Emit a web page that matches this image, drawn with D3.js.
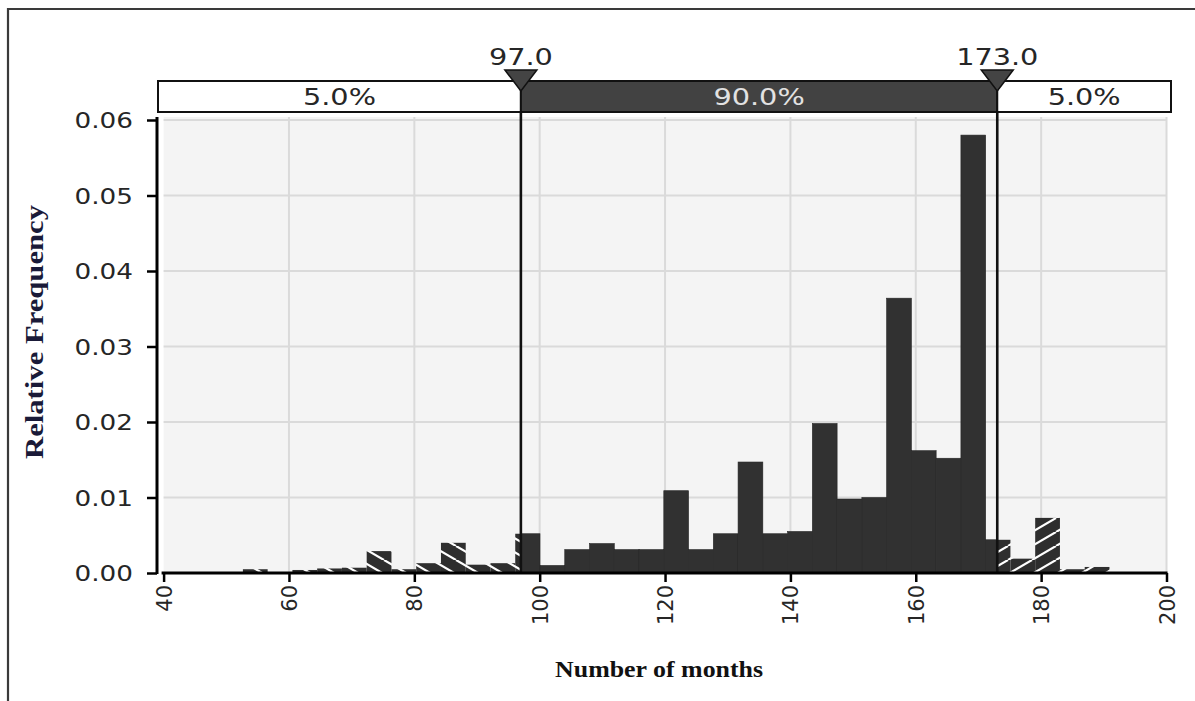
<!DOCTYPE html>
<html>
<head>
<meta charset="utf-8">
<script src="https://cdn.jsdelivr.net/npm/d3@7"></script>
<style>
  html, body { margin: 0; padding: 0; background: #ffffff; }
  svg { display: block; }
</style>
</head>
<body>
<svg id="chart" width="1195" height="701"></svg>
<script>
// ---------------- data ----------------
const binWidth = 3.95;
const binLo = [52.65, 56.60, 60.55, 64.50, 68.45, 72.40, 76.35, 80.30, 84.25, 88.20,
               92.15, 96.10, 100.05, 104.00, 107.95, 111.90, 115.85, 119.80, 123.75, 127.70,
               131.65, 135.60, 139.55, 143.50, 147.45, 151.40, 155.35, 159.30, 163.25, 167.20,
               171.15, 175.10, 179.05, 183.00, 186.95];
const relFreq = [0.0005, 0.0000, 0.0004, 0.0006, 0.0007, 0.0029, 0.0005, 0.0013, 0.0040, 0.0011,
                 0.0013, 0.0052, 0.0010, 0.0031, 0.0039, 0.0031, 0.0031, 0.0109, 0.0031, 0.0052,
                 0.0147, 0.0052, 0.0055, 0.0198, 0.0098, 0.0100, 0.0364, 0.0162, 0.0152, 0.0580,
                 0.0044, 0.0019, 0.0073, 0.0005, 0.0008];
const xTicks = [40, 60, 80, 100, 120, 140, 160, 180, 200];
const yTicks = [0.00, 0.01, 0.02, 0.03, 0.04, 0.05, 0.06];
const markerValues = [97.0, 173.0];
const markerLabels = ["97.0", "173.0"];
const bandLabels = ["5.0%", "90.0%", "5.0%"];
const xTitle = "Number of months";
const yTitle = "Relative Frequency";

// ---------------- layout ----------------
const svg = d3.select("#chart");
const x = d3.scaleLinear().domain([40, 200]).range([163.6, 1166.5]);
const y = d3.scaleLinear().domain([0, 0.06]).range([573, 120]);
const plotTop = 117;
const bandTop = 81, bandBot = 112, bandLeft = 158, bandRight = 1171;
const SX = 1.25;
const sans = "'DejaVu Sans', Verdana, sans-serif";
const serif = "'Liberation Serif', 'Times New Roman', serif";

svg.append("rect").attr("width", 1195).attr("height", 701).attr("fill", "#ffffff");

// frame
svg.append("path").attr("d", "M8,701 L8,9 L1195,9")
  .attr("fill", "none").attr("stroke", "#3a3a3a").attr("stroke-width", 2.2);

// hatch patterns
const defs = svg.append("defs");
function hatch(id, dir) {
  const p = defs.append("pattern").attr("id", id)
    .attr("patternUnits", "userSpaceOnUse").attr("width", 24).attr("height", 14);
  p.append("rect").attr("width", 24).attr("height", 14).attr("fill", "#2e2e2e");
  const lines = dir === "up"
    ? [[0, 14, 24, 0], [-24, 14, 0, 0], [24, 14, 48, 0]]
    : [[0, 0, 24, 14], [-24, 0, 0, 14], [24, 0, 48, 14]];
  lines.forEach(l => p.append("line")
    .attr("x1", l[0]).attr("y1", l[1]).attr("x2", l[2]).attr("y2", l[3])
    .attr("stroke", "#ffffff").attr("stroke-width", 2.2));
}
hatch("hatchLeft", "down");
hatch("hatchRight", "up");

// plot background
svg.append("rect")
  .attr("x", x(40)).attr("y", plotTop)
  .attr("width", x(200) - x(40)).attr("height", y(0) - plotTop)
  .attr("fill", "#f4f4f4");

// gridlines
svg.append("g").selectAll("line").data(xTicks.slice(1)).join("line")
  .attr("x1", d => x(d)).attr("x2", d => x(d))
  .attr("y1", plotTop).attr("y2", y(0))
  .attr("stroke", "#dadada").attr("stroke-width", 2);
svg.append("g").selectAll("line").data(yTicks.slice(1)).join("line")
  .attr("x1", x(40)).attr("x2", x(200))
  .attr("y1", d => y(d)).attr("y2", d => y(d))
  .attr("stroke", "#dadada").attr("stroke-width", 2);

// bars, split at the marker values
const lo = markerValues[0], hi = markerValues[1];
const segs = [];
binLo.forEach((b, i) => {
  const b0 = b, b1 = b + binWidth, v = relFreq[i];
  if (v <= 0) return;
  if (b0 < lo) segs.push({ a: b0, b: Math.min(b1, lo), v, fill: "url(#hatchLeft)" });
  if (b1 > lo && b0 < hi) segs.push({ a: Math.max(b0, lo), b: Math.min(b1, hi), v, fill: "#313131" });
  if (b1 > hi) segs.push({ a: Math.max(b0, hi), b: b1, v, fill: "url(#hatchRight)" });
});
svg.append("g").selectAll("rect").data(segs).join("rect")
  .attr("x", d => x(d.a)).attr("width", d => x(d.b) - x(d.a))
  .attr("y", d => y(d.v)).attr("height", d => y(0) - y(d.v))
  .attr("fill", d => d.fill)
  .attr("stroke", d => d.fill === "#313131" ? "#262626" : "none")
  .attr("stroke-width", 0.6);

// marker vertical lines
svg.append("g").selectAll("line").data(markerValues).join("line")
  .attr("x1", d => x(d)).attr("x2", d => x(d))
  .attr("y1", bandTop).attr("y2", y(0))
  .attr("stroke", "#111").attr("stroke-width", 2.6);

// axes
const yAxis = svg.append("g").attr("transform", "translate(157,0)")
  .call(d3.axisLeft(y).tickValues(yTicks).tickFormat(d3.format(".2f")).tickSize(10).tickSizeOuter(0));
yAxis.select(".domain").attr("stroke", "#000").attr("stroke-width", 3)
  .attr("d", `M0,${plotTop}V${y(0) + 1}`);
yAxis.selectAll(".tick line").attr("stroke", "#000").attr("stroke-width", 2.5);
yAxis.selectAll(".tick text")
  .attr("x", -24 / SX).attr("dy", "0.36em")
  .attr("transform", `scale(${SX},1)`)
  .attr("font-family", sans).attr("font-size", 21).attr("fill", "#262626");

const xAxis = svg.append("g").attr("transform", `translate(0,${y(0)})`)
  .call(d3.axisBottom(x).tickValues(xTicks).tickSize(9).tickSizeOuter(0));
xAxis.select(".domain").attr("stroke", "#000").attr("stroke-width", 3)
  .attr("d", `M${x(40) - 2},0H${x(200) + 1}`);
xAxis.selectAll(".tick line").attr("stroke", "#000").attr("stroke-width", 2.5);
xAxis.selectAll(".tick text")
  .attr("transform", "rotate(-90)")
  .attr("x", -12).attr("y", 0).attr("dy", "0.36em")
  .attr("text-anchor", "end")
  .attr("font-family", sans).attr("font-size", 21).attr("fill", "#262626");

// scaled text helper
function sText(px, py, str, size, color, anchor) {
  return svg.append("text")
    .attr("transform", `translate(${px},${py}) scale(${SX},1)`)
    .attr("text-anchor", anchor || "middle")
    .attr("font-family", sans).attr("font-size", size)
    .attr("fill", color).text(str);
}

// top band
const xLo = x(lo), xHi = x(hi);
const bandSegs = [
  { a: bandLeft, b: xLo, fill: "#ffffff", text: "#262626" },
  { a: xLo, b: xHi, fill: "#424242", text: "#e2e2e2" },
  { a: xHi, b: bandRight, fill: "#ffffff", text: "#262626" }
];
svg.append("g").selectAll("rect").data(bandSegs).join("rect")
  .attr("x", d => d.a).attr("y", bandTop)
  .attr("width", d => d.b - d.a).attr("height", bandBot - bandTop)
  .attr("fill", d => d.fill).attr("stroke", "#111").attr("stroke-width", 2);
bandSegs.forEach((d, i) => {
  sText((d.a + d.b) / 2, 105, bandLabels[i], 23, d.text);
});

// marker triangles and labels
markerValues.forEach((v, i) => {
  const cx = x(v);
  svg.append("path")
    .attr("d", `M${cx - 16},70 L${cx + 16},70 L${cx},91 Z`)
    .attr("fill", "#444").attr("stroke", "#111").attr("stroke-width", 1.5);
  sText(cx, 65, markerLabels[i], 23, "#262626");
});

// axis titles
svg.append("text")
  .attr("transform", `translate(${(x(40) + x(200)) / 2 - 6},677)`)
  .attr("text-anchor", "middle")
  .attr("font-family", serif).attr("font-weight", "bold").attr("font-size", 23)
  .attr("textLength", 208).attr("lengthAdjust", "spacingAndGlyphs")
  .attr("fill", "#111").text(xTitle);
svg.append("text")
  .attr("transform", "translate(43,332) rotate(-90)")
  .attr("text-anchor", "middle")
  .attr("font-family", serif).attr("font-weight", "bold").attr("font-size", 25)
  .attr("textLength", 254).attr("lengthAdjust", "spacingAndGlyphs")
  .attr("fill", "#1a1a38").text(yTitle);
</script>
</body>
</html>
